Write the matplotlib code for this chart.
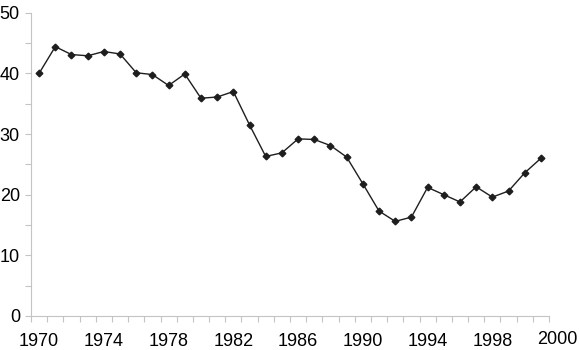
import matplotlib
matplotlib.use("Agg")
import matplotlib.pyplot as plt
import matplotlib.transforms as mtransforms

# one value per year, 1970 - 2001
years = list(range(1970, 2002))
values = [40.0, 44.4, 43.1, 42.9, 43.6, 43.2, 40.1, 39.8, 38.0, 39.9,
          35.9, 36.1, 37.0, 31.5, 26.3, 26.9, 29.2, 29.1, 28.1, 26.2,
          21.8, 17.3, 15.6, 16.3, 21.2, 20.0, 18.8, 21.3, 19.6, 20.6,
          23.6, 26.0]

label_years = [1970, 1974, 1978, 1982, 1986, 1990, 1994, 1998]
y_ticks = [0, 10, 20, 30, 40, 50]

plt.rcParams['font.family'] = ['Liberation Sans', 'DejaVu Sans']

axis_grey = "#c4c4c4"

fig = plt.figure(figsize=(5.8, 3.5), dpi=100)
ax = fig.add_axes([31 / 580, 34 / 350, 518 / 580, 303.3 / 350])

ax.plot(years, values, color="#1e1e1e", linewidth=1.0,
        marker="D", markersize=3.4, markerfacecolor="#1e1e1e",
        markeredgecolor="#1e1e1e")

ax.set_xlim(years[0] - 0.5, years[-1] + 0.5)
ax.set_ylim(0, 50)

for side in ["top", "right"]:
    ax.spines[side].set_visible(False)
for side in ["left", "bottom"]:
    ax.spines[side].set_color(axis_grey)
    ax.spines[side].set_linewidth(0.8)

# y axis: major every 10, minor every 5
ax.set_yticks(y_ticks)
ax.set_yticks([5, 15, 25, 35, 45], minor=True)
ax.tick_params(axis="y", which="both", direction="out", length=4,
               color=axis_grey, width=0.8, labelsize=13, pad=4)

# x axis: tick marks between categories, labels every 4 years
ax.set_xticks([y - 0.5 for y in years] + [years[-1] + 0.5], minor=True)
ax.set_xticks(label_years)
ax.set_xticklabels([str(y) for y in label_years])
ax.tick_params(axis="x", which="minor", direction="out", length=4.5,
               color=axis_grey, width=0.8)
ax.tick_params(axis="x", which="major", length=0, labelsize=13, pad=12)

# last label sits past the end of the axis
trans = mtransforms.blended_transform_factory(ax.transData, ax.transAxes)
trans = trans + mtransforms.ScaledTranslation(0, -11 / 72, fig.dpi_scale_trans)
ax.text(2002, 0, "2000", transform=trans, fontsize=13, ha="center",
        va="top", clip_on=False)

fig.savefig("out.png", dpi=100)
